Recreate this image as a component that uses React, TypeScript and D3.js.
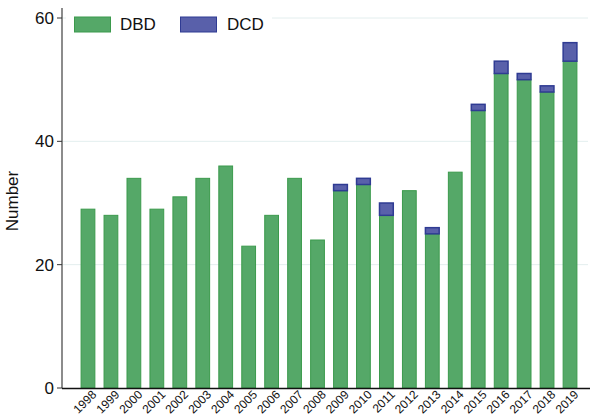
import React from "react";
import * as d3 from "d3";

const years = ["1998","1999","2000","2001","2002","2003","2004","2005","2006","2007","2008","2009","2010","2011","2012","2013","2014","2015","2016","2017","2018","2019"];
const dbd = [29,28,34,29,31,34,36,23,28,34,24,32,33,28,32,25,35,45,51,50,48,53];
const dcd = [0,0,0,0,0,0,0,0,0,0,0,1,1,2,0,1,0,1,2,1,1,3];
const yTicks = [0, 20, 40, 60];

const W = 594, H = 416;
const font = "'Liberation Sans', Arial, sans-serif";

export default function App() {
	const x = d3.scaleBand<string>().domain(years).range([76.5, 581.5]).paddingInner(0.4).paddingOuter(0.2);
	const y = d3.scaleLinear().domain([0, 60]).range([388, 18]);
	const bw = x.bandwidth();

	return (
		<svg width={W} height={H} style={{position: "absolute", left: 0, top: 0, fontFamily: font}}>
			{/* grid */}
			{yTicks.filter(t => t > 0).map(t => (
				<line key={t} x1={62} x2={588} y1={y(t)} y2={y(t)} stroke="#e3eeee" strokeWidth={1} />
			))}
			{/* bars */}
			{years.map((yr, i) => (
				<g key={yr}>
					<rect x={x(yr)} y={y(dbd[i])} width={bw} height={y(0) - y(dbd[i])}
						fill="#55a868" stroke="#3b9a4c" strokeWidth={1} />
					{dcd[i] > 0 &&
						<rect x={x(yr)} y={y(dbd[i] + dcd[i])} width={bw} height={y(dbd[i]) - y(dbd[i] + dcd[i])}
							fill="#5960aa" stroke="#2f3b93" strokeWidth={1.5} />}
				</g>
			))}
			{/* y axis */}
			<line x1={62} x2={62} y1={8} y2={388} stroke="#666" strokeWidth={1.5} />
			{yTicks.map(t => (
				<g key={t} transform={`translate(62,${y(t)})`}>
					<line x1={-5} x2={0} stroke="#333" />
					<text x={-8} dy="0.35em" textAnchor="end" fontSize={17} fill="#111">{t}</text>
				</g>
			))}
			<text transform={`translate(18,${y(30) - 2})rotate(-90)`} textAnchor="middle" fontSize={17} fill="#111">Number</text>
			{/* x axis */}
			<line x1={62} x2={590} y1={388.5} y2={388.5} stroke="#111" strokeWidth={1.5} />
			{years.map(yr => (
				<text key={yr} transform={`translate(${x(yr)! + bw / 2 + 4},${390})rotate(-45)`}
					textAnchor="end" dy="0.62em" fontSize={12} fill="#111">{yr}</text>
			))}
			{/* legend */}
			<rect x={66} y={10} width={206} height={28} fill="white" />
			<rect x={74.5} y={17} width={36} height={15} fill="#55a868" stroke="#3b9a4c" />
			<text x={120} y={30} fontSize={17} fill="#111">DBD</text>
			<rect x={180.5} y={17} width={36} height={15} fill="#5960aa" stroke="#2f3b93" />
			<text x={227} y={30} fontSize={17} fill="#111">DCD</text>
		</svg>
	);
}
